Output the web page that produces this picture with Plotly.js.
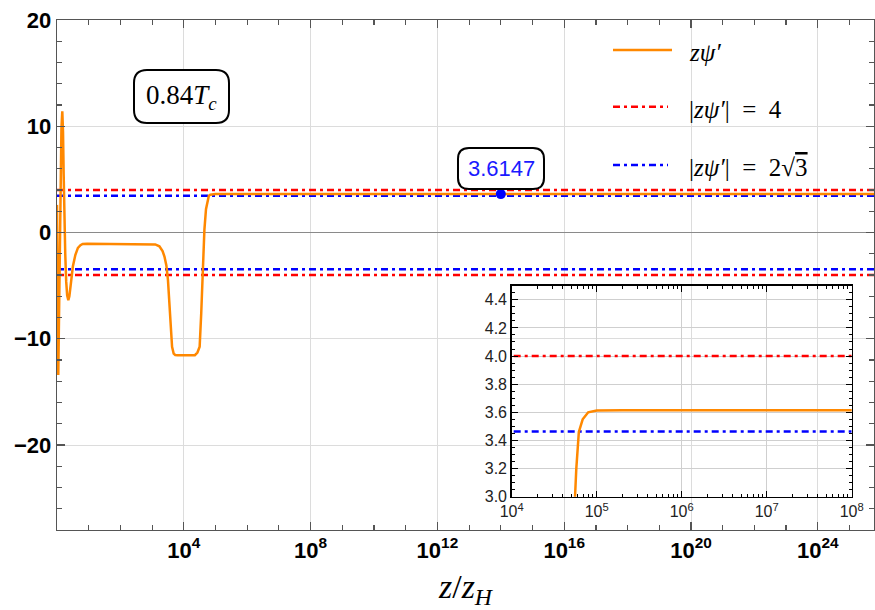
<!DOCTYPE html>
<html>
<head>
<meta charset="utf-8">
<script src="https://cdn.plot.ly/plotly-3.0.1.min.js"></script>
<style>html,body{margin:0;padding:0;background:#fff;}#chart{width:875px;height:610px;}</style>
</head>
<body>
<div id="chart"></div>
<script>
// ---- data ----
const log10Z = [0, 0.01, 0.025, 0.04, 0.055, 0.08, 0.11, 0.14, 0.167, 0.19, 0.21, 0.235, 0.26, 0.29, 0.32, 0.357, 0.39, 0.43, 0.5, 0.58, 0.66, 0.74, 0.81, 0.95, 1.5, 2.0, 2.5, 2.9, 3.1, 3.23, 3.33, 3.39, 3.45, 3.5, 3.57, 3.63, 3.68, 3.73, 3.8, 4.0, 4.2, 4.35, 4.43, 4.5, 4.55, 4.6, 4.65, 4.7, 4.745, 4.76, 4.79, 4.835, 4.9, 5.0, 5.3, 6, 10, 14, 20, 26];
const zPsiPrime = [2.6, -3, -10, -13.4, -10, -2, 5, 9.8, 11.4, 9.5, 5.5, 1, -2, -4.6, -5.9, -6.37, -6.0, -5.0, -3.2, -2.1, -1.45, -1.2, -1.08, -1.05, -1.05, -1.05, -1.05, -1.07, -1.12, -1.3, -1.75, -2.26, -3.1, -4.46, -7.6, -10.75, -11.4, -11.53, -11.56, -11.56, -11.56, -11.55, -11.3, -10.75, -7.6, -3.2, 0.25, 2.2, 3.0, 3.2, 3.46, 3.55, 3.6, 3.612, 3.6147, 3.6147, 3.6147, 3.6147, 3.6147, 3.6147];
const refSpanZ = [1, 1e26];
const bound4 = 4;
const bound2r3 = 2 * Math.sqrt(3);
const markZ = [1e14];
const markVal = [3.6147];
const markLabel = "3.6147";
const tempLabel = "0.84<i>T</i><sub><i>c</i></sub>";
const legendLabels = ["<i>zψ′</i>", "|<i>zψ′</i>|\u2002=\u20024", "|<i>zψ′</i>|\u2002=\u20022√<span style='text-decoration:overline'>3</span>"];
const mainTickVals = [1e4, 1e8, 1e12, 1e16, 1e20, 1e24];
const mainTickText = ["10<sup>4</sup>", "10<sup>8</sup>", "10<sup>12</sup>", "10<sup>16</sup>", "10<sup>20</sup>", "10<sup>24</sup>"];
const insetTickVals = [1e4, 1e5, 1e6, 1e7, 1e8];
const insetTickText = ["10<sup>4</sup>", "10<sup>5</sup>", "10<sup>6</sup>", "10<sup>7</sup>", "10<sup>8</sup>"];

// ---- derived ----
const zVals = log10Z.map(v => Math.pow(10, v));
const mainMinor = [];
for (let k = 1; k <= 25; k++) mainMinor.push(Math.pow(10, k));
const insetMinor = [];
for (let k = 4; k < 8; k++) for (let m = 2; m <= 9; m++) insetMinor.push(m * Math.pow(10, k));

// pixel -> paper helpers (plot area: x 57..874, y 20..530)
const L = 57, R = 874, T = 20, B = 530;
const PX = p => (p - L) / (R - L);
const PY = p => (B - p) / (B - T);
function roundRect(x0, y0, x1, y1, r) {
  const P = (x, y) => PX(x).toFixed(5) + "," + PY(y).toFixed(5);
  return "M" + P(x0 + r, y0) + " L" + P(x1 - r, y0) + " Q" + P(x1, y0) + " " + P(x1, y0 + r) +
    " L" + P(x1, y1 - r) + " Q" + P(x1, y1) + " " + P(x1 - r, y1) +
    " L" + P(x0 + r, y1) + " Q" + P(x0, y1) + " " + P(x0, y1 - r) +
    " L" + P(x0, y0 + r) + " Q" + P(x0, y0) + " " + P(x0 + r, y0) + " Z";
}

const ORANGE = "rgb(255,136,0)";
const DASH = "7px,4px,3px,4px";

function refLine(v, color, xa, ya) {
  return {
    x: [refSpanZ[0], refSpanZ[1], null, refSpanZ[0], refSpanZ[1]],
    y: [v, v, null, -v, -v],
    mode: "lines", line: {color: color, width: 2.5, dash: DASH},
    xaxis: xa, yaxis: ya, showlegend: false, hoverinfo: "skip"
  };
}

const traces = [
  refLine(bound4, "#ff0000", "x", "y"),
  refLine(bound2r3, "#0000ff", "x", "y"),
  {x: zVals, y: zPsiPrime, mode: "lines", line: {color: ORANGE, width: 2.5}, xaxis: "x", yaxis: "y", showlegend: false},
  {x: markZ, y: markVal, mode: "markers", marker: {color: "#0000ff", size: 10}, xaxis: "x", yaxis: "y", showlegend: false},
  refLine(bound4, "#ff0000", "x2", "y2"),
  refLine(bound2r3, "#0000ff", "x2", "y2"),
  {x: zVals, y: zPsiPrime, mode: "lines", line: {color: ORANGE, width: 2.5}, xaxis: "x2", yaxis: "y2", showlegend: false}
];

const boldFont = {family: "Liberation Sans, Arial, sans-serif", size: 22, color: "#000", weight: "bold"};
const insetFont = {family: "Liberation Sans, Arial, sans-serif", size: 16, color: "#222"};
const serif = "Liberation Serif, DejaVu Serif, serif";

const insX0 = 511.7, insX1 = 851.7, insY0 = 285.7, insY1 = 496.7;

const layout = {
  width: 875, height: 610,
  margin: {l: L, r: 875 - R, t: T, b: 610 - B, pad: 0, autoexpand: false},
  paper_bgcolor: "#fff", plot_bgcolor: "rgba(0,0,0,0)",
  showlegend: false,
  xaxis: {
    type: "log", range: [0, (R - L) / 31.7], autorange: false,
    tickmode: "array", tickvals: mainTickVals, ticktext: mainTickText,
    ticks: "inside", ticklen: 8, tickwidth: 1.2, tickcolor: "#555",
    minor: {tickmode: "array", tickvals: mainMinor, ticks: "inside", ticklen: 5, tickwidth: 1.2, tickcolor: "#555", showgrid: false},
    showgrid: true, gridcolor: "#dcdcdc", gridwidth: 1,
    showline: true, linecolor: "#555", linewidth: 1.3, mirror: "ticks",
    zeroline: false, tickfont: boldFont, automargin: false,
    title: {text: "<i>z</i>/<i>z</i><sub><i>H</i></sub>", font: {family: serif, size: 34, color: "#000"}, standoff: 14},
    domain: [0, 1], anchor: "y"
  },
  yaxis: {
    range: [-28, 20], autorange: false, tick0: 0, dtick: 10,
    ticks: "inside", ticklen: 8, tickwidth: 1.2, tickcolor: "#555",
    minor: {dtick: 2, ticks: "inside", ticklen: 5, tickwidth: 1.2, tickcolor: "#555", showgrid: false},
    showgrid: true, gridcolor: "#dcdcdc", gridwidth: 1,
    zeroline: true, zerolinecolor: "#8a8a8a", zerolinewidth: 1.5,
    showline: true, linecolor: "#555", linewidth: 1.3, mirror: "ticks",
    tickfont: boldFont, automargin: false, domain: [0, 1], anchor: "x"
  },
  xaxis2: {
    type: "log", range: [4, 8], autorange: false,
    tickmode: "array", tickvals: insetTickVals, ticktext: insetTickText,
    ticks: "inside", ticklen: 6, tickwidth: 1, tickcolor: "#000",
    minor: {tickmode: "array", tickvals: insetMinor, ticks: "inside", ticklen: 3, tickwidth: 1, tickcolor: "#000", showgrid: false},
    showgrid: true, gridcolor: "#cfcfcf", gridwidth: 1,
    showline: true, linecolor: "#000", linewidth: 1.5, mirror: "ticks",
    zeroline: false, tickfont: insetFont, automargin: false,
    domain: [PX(insX0), PX(insX1)], anchor: "y2"
  },
  yaxis2: {
    range: [3, 4.5], autorange: false, tick0: 3, dtick: 0.2, tickformat: ".1f",
    ticks: "inside", ticklen: 6, tickwidth: 1, tickcolor: "#000",
    minor: {dtick: 0.05, ticks: "inside", ticklen: 3, tickwidth: 1, tickcolor: "#000", showgrid: false},
    showgrid: true, gridcolor: "#cfcfcf", gridwidth: 1,
    showline: true, linecolor: "#000", linewidth: 1.5, mirror: "ticks",
    zeroline: false, tickfont: insetFont, automargin: false,
    domain: [PY(insY1), PY(insY0)], anchor: "x2"
  },
  shapes: [
    {type: "path", xref: "paper", yref: "paper", path: roundRect(134, 70, 229, 123, 13), line: {color: "#000", width: 2}, fillcolor: "#fff", layer: "above"},
    {type: "path", xref: "paper", yref: "paper", path: roundRect(458, 148, 544, 189, 11), line: {color: "#000", width: 2}, fillcolor: "#fff", layer: "above"},
    {type: "line", xref: "paper", yref: "paper", x0: PX(613), x1: PX(672), y0: PY(50), y1: PY(50), line: {color: ORANGE, width: 2.5}},
    {type: "line", xref: "paper", yref: "paper", x0: PX(613), x1: PX(668), y0: PY(106.7), y1: PY(106.7), line: {color: "#ff0000", width: 2.5, dash: DASH}},
    {type: "line", xref: "paper", yref: "paper", x0: PX(613), x1: PX(668), y0: PY(165), y1: PY(165), line: {color: "#0000ff", width: 2.5, dash: DASH}}
  ],
  annotations: [
    {xref: "paper", yref: "paper", x: PX(181.5), y: PY(96.5), text: tempLabel, showarrow: false, xanchor: "center", yanchor: "middle", font: {family: serif, size: 27, color: "#000"}},
    {xref: "paper", yref: "paper", x: PX(501), y: PY(168.5), text: markLabel, showarrow: false, xanchor: "center", yanchor: "middle", font: {family: "Liberation Sans, Arial, sans-serif", size: 22, color: "#1a1aff"}},
    {xref: "paper", yref: "paper", x: PX(687), y: PY(52), text: legendLabels[0], showarrow: false, xanchor: "left", yanchor: "middle", font: {family: serif, size: 25, color: "#000"}},
    {xref: "paper", yref: "paper", x: PX(687), y: PY(109), text: legendLabels[1], showarrow: false, xanchor: "left", yanchor: "middle", font: {family: serif, size: 25, color: "#000"}},
    {xref: "paper", yref: "paper", x: PX(687), y: PY(167), text: legendLabels[2], showarrow: false, xanchor: "left", yanchor: "middle", font: {family: serif, size: 25, color: "#000"}}
  ]
};

Plotly.newPlot("chart", traces, layout, {staticPlot: true, displayModeBar: false});
</script>
</body>
</html>
